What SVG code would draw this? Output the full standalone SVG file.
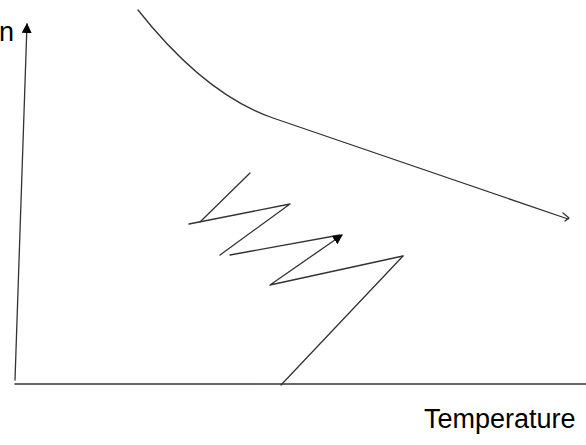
<svg xmlns="http://www.w3.org/2000/svg" width="586" height="445" viewBox="0 0 586 445">
<style>
.ln{fill:none;stroke:#333;stroke-width:1.3;stroke-linecap:round;stroke-linejoin:round}
.lbl{font-family:"Liberation Sans",Arial,sans-serif;font-size:27px;fill:#000}
</style>
<defs>
<marker id="tri" viewBox="0 0 10 10" refX="9" refY="5" markerWidth="10" markerHeight="10" markerUnits="userSpaceOnUse" orient="auto">
<path d="M0,0 L10,5 L0,10 z" fill="#000"/>
</marker>
</defs>
<rect width="586" height="445" fill="#fff"/>
<g id="connectors">
<line class="ln" x1="15" y1="380" x2="27" y2="24" marker-end="url(#tri)"/>
<line class="ln" x1="15" y1="384" x2="586" y2="384" style="stroke-width:1.6"/>
<path class="ln" d="M138,10 C168,48 215,98 273,118 L568,219"/>
<path class="ln" d="M563,213 L569,218 L565,221"/>
<path class="ln" d="M250,173 L200,222"/>
<path class="ln" d="M189,224 L290,204 L220,255"/>
<path class="ln" d="M230,255 L340,235"/>
<path class="ln" d="M403,256 L281,385"/>
<path class="ln" d="M403,256 L270,285 L342,235" marker-end="url(#tri)"/>
</g>
<g id="labels">
<text class="lbl" x="14" y="41" text-anchor="end">n</text>
<text class="lbl" x="424" y="428">Temperature</text>
</g>
</svg>
